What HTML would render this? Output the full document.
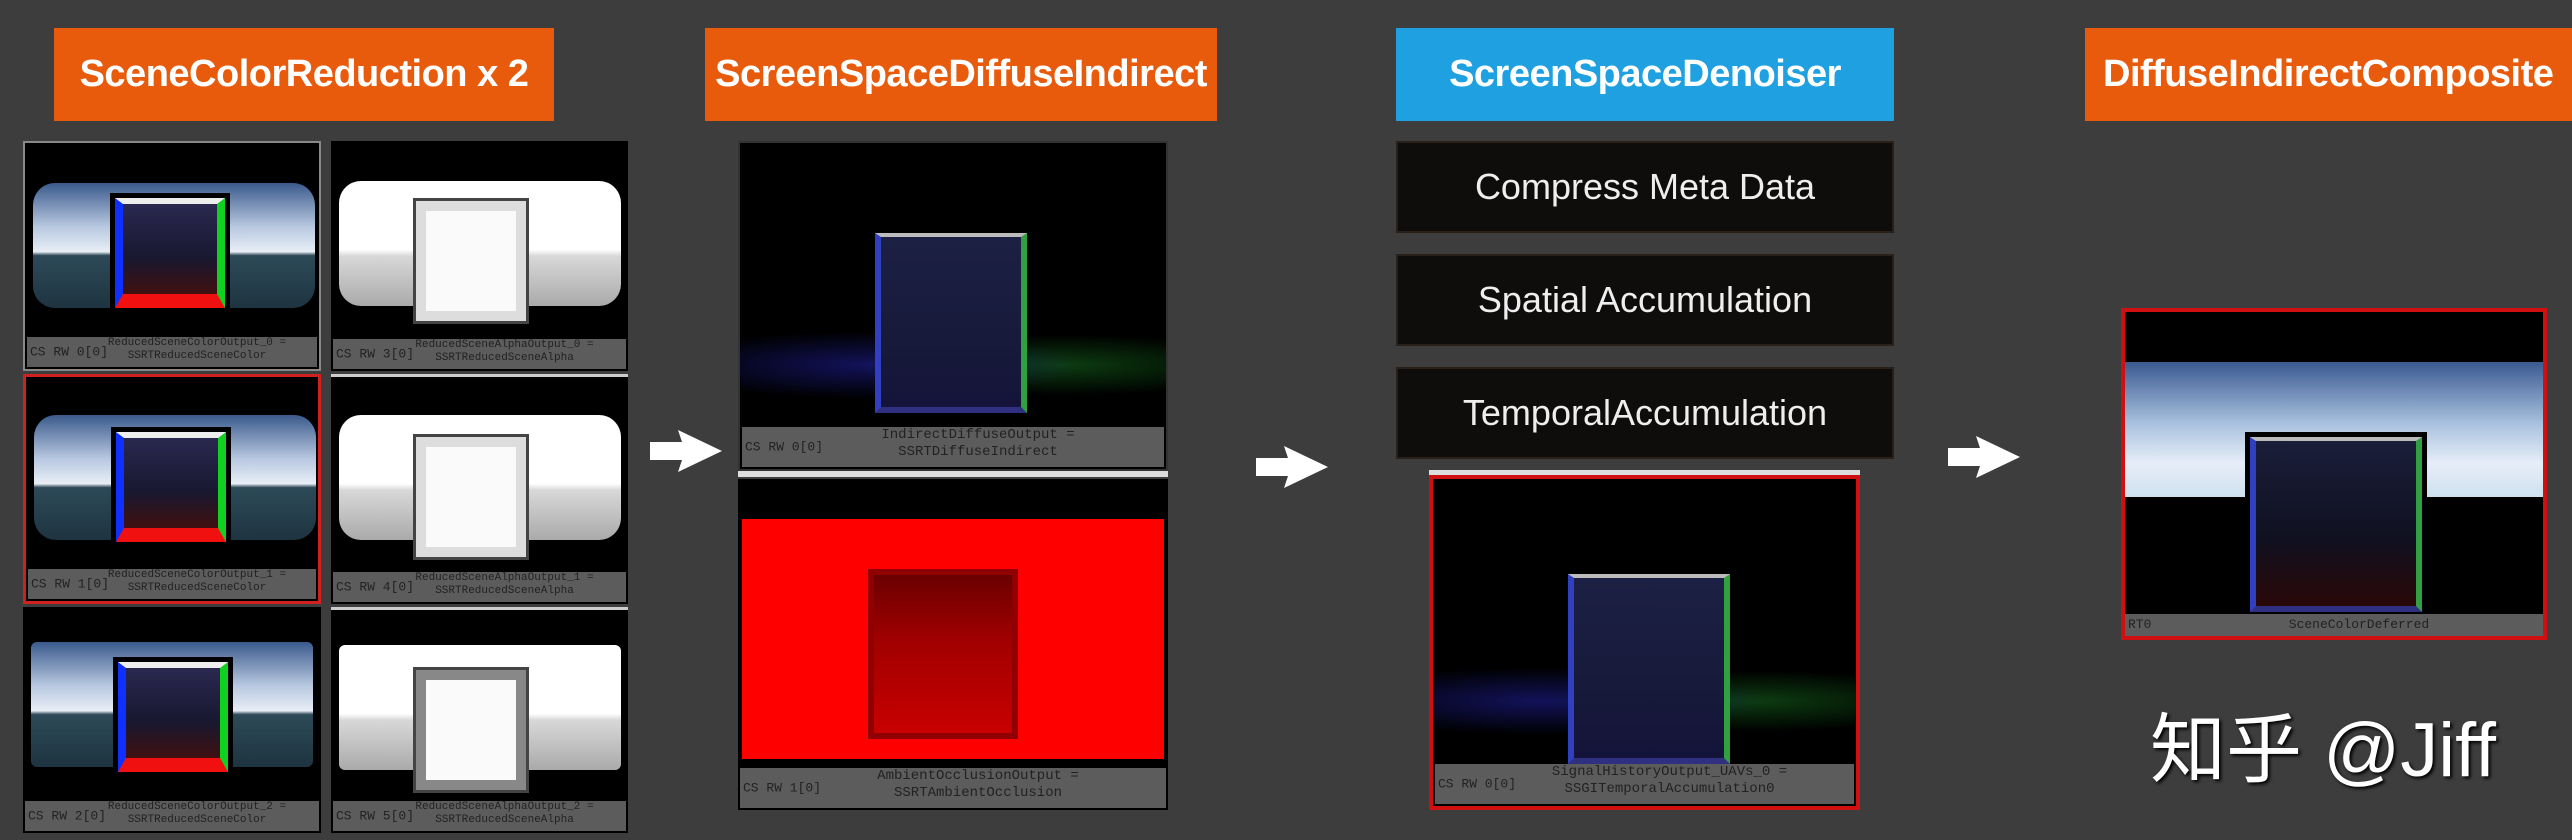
<!DOCTYPE html>
<html><head><meta charset="utf-8">
<style>
body{margin:0;width:2572px;height:840px;background:#3d3d3d;position:relative;overflow:hidden;font-family:"Liberation Sans",sans-serif}
.abs{position:absolute}
.hdr{position:absolute;color:#fff;font-family:"Liberation Sans Narrow","Liberation Sans",sans-serif;font-weight:bold;font-size:38px;display:flex;align-items:center;justify-content:center;white-space:nowrap;letter-spacing:-0.5px}
.or{background:#e85a0c}
.bl{background:#1fa0e0}
.step{position:absolute;background:#0f0d0c;border:2px solid #2a201a;color:#eee;font-size:36px;display:flex;align-items:center;justify-content:center;font-family:"Liberation Sans Narrow","Liberation Sans",sans-serif;box-sizing:border-box}
.thumb{position:absolute;background:#000;overflow:hidden;box-sizing:border-box}
.lab{position:absolute;left:2px;right:2px;bottom:2px;background:#5c5c5c;color:#222;font-family:"Liberation Mono",monospace;font-size:11px;line-height:13px;text-align:center;padding-left:50px;box-sizing:border-box}
.lab span{position:absolute;left:3px;top:50%;transform:translateY(-50%);font-size:13px}
.sky{position:absolute;border-radius:22px;background:linear-gradient(180deg,#3a5a8c 0%,#b8c8e0 35%,#e8eef6 55%,#2d4a58 58%,#1e3440 100%)}
.wsky{position:absolute;border-radius:22px;background:linear-gradient(180deg,#fff 0%,#fff 55%,#d8d8d8 60%,#aaa 100%)}
.room{position:absolute;background:linear-gradient(180deg,#2a2850,#181830 60%,#401010);border-left:8px solid #1030ff;border-right:8px solid #10d020;border-bottom:14px solid #f01010;border-top:6px solid #eee;box-sizing:border-box;box-shadow:0 0 0 5px #000}
.wroom{position:absolute;background:#fafafa;border:10px solid #ddd;box-shadow:0 0 0 3px #444}
.droom{position:absolute;background:linear-gradient(180deg,#1c2044,#171a3a 60%,#14143a);border-left:6px solid #3040c0;border-right:6px solid #30a040;border-top:4px solid #bbb;border-bottom:6px solid #303080}
</style></head><body>
<div class="hdr or" style="left:54px;top:28px;width:500px;height:93px">SceneColorReduction x 2</div>
<div class="hdr or" style="left:705px;top:28px;width:512px;height:93px">ScreenSpaceDiffuseIndirect</div>
<div class="hdr bl" style="left:1396px;top:28px;width:498px;height:93px">ScreenSpaceDenoiser</div>
<div class="hdr or" style="left:2085px;top:28px;width:500px;height:93px;justify-content:flex-start;padding-left:18px">DiffuseIndirectComposite</div>

<div class="thumb" style="left:23px;top:141px;width:298px;height:230px;border:2px solid #888">
 <div class="sky" style="left:8px;top:40px;width:282px;height:125px"></div>
 <div class="room" style="left:90px;top:55px;width:110px;height:110px"></div>
 <div class="lab" style="height:30px"><span>CS RW 0[0]</span>ReducedSceneColorOutput_0 =<br>SSRTReducedSceneColor</div></div>
<div class="thumb" style="left:23px;top:374px;width:298px;height:230px;border:3px solid #d02020">
 <div class="sky" style="left:8px;top:38px;width:282px;height:125px"></div>
 <div class="room" style="left:90px;top:55px;width:110px;height:110px"></div>
 <div class="lab" style="height:30px"><span>CS RW 1[0]</span>ReducedSceneColorOutput_1 =<br>SSRTReducedSceneColor</div></div>
<div class="thumb" style="left:23px;top:607px;width:298px;height:226px">
 <div class="sky" style="left:8px;top:35px;width:282px;height:125px;border-radius:6px"></div>
 <div class="room" style="left:95px;top:55px;width:110px;height:110px"></div>
 <div class="lab" style="height:30px"><span>CS RW 2[0]</span>ReducedSceneColorOutput_2 =<br>SSRTReducedSceneColor</div></div>
<div class="thumb" style="left:331px;top:141px;width:297px;height:230px">
 <div class="wsky" style="left:8px;top:40px;width:282px;height:125px"></div>
 <div class="wroom" style="left:85px;top:60px;width:90px;height:100px"></div>
 <div class="lab" style="height:30px"><span>CS RW 3[0]</span>ReducedSceneAlphaOutput_0 =<br>SSRTReducedSceneAlpha</div></div>
<div class="thumb" style="left:331px;top:374px;width:297px;height:230px;border-top:3px solid #ccc">
 <div class="wsky" style="left:8px;top:38px;width:282px;height:125px"></div>
 <div class="wroom" style="left:85px;top:60px;width:90px;height:100px"></div>
 <div class="lab" style="height:30px"><span>CS RW 4[0]</span>ReducedSceneAlphaOutput_1 =<br>SSRTReducedSceneAlpha</div></div>
<div class="thumb" style="left:331px;top:607px;width:297px;height:226px;border-top:3px solid #ccc">
 <div class="wsky" style="left:8px;top:35px;width:282px;height:125px;border-radius:6px"></div>
 <div class="wroom" style="left:85px;top:60px;width:90px;height:100px;border-color:#888"></div>
 <div class="lab" style="height:30px"><span>CS RW 5[0]</span>ReducedSceneAlphaOutput_2 =<br>SSRTReducedSceneAlpha</div></div>

<div class="thumb" style="left:738px;top:141px;width:430px;height:330px;border:2px solid #333">
 <div class="abs" style="left:0;top:190px;width:430px;height:80px;background:radial-gradient(ellipse at 30% 40%,rgba(40,40,200,.45),transparent 50%),radial-gradient(ellipse at 75% 40%,rgba(30,150,40,.4),transparent 45%)"></div>
 <div class="droom" style="left:135px;top:90px;width:140px;height:170px"></div>
 <div class="lab" style="height:40px;font-size:14px;line-height:17px"><span>CS RW 0[0]</span>IndirectDiffuseOutput =<br>SSRTDiffuseIndirect</div></div>
<div class="abs" style="left:738px;top:471px;width:430px;height:6px;background:#ddd"></div>
<div class="thumb" style="left:738px;top:479px;width:430px;height:331px">
 <div class="abs" style="left:4px;top:40px;width:422px;height:240px;background:#ff0000"></div>
 <div class="abs" style="left:130px;top:90px;width:150px;height:170px;background:linear-gradient(180deg,#6a0000,#a00000 40%,#c80000);border:6px solid #900000;box-sizing:border-box"></div>
 <div class="lab" style="height:40px;font-size:14px;line-height:17px"><span>CS RW 1[0]</span>AmbientOcclusionOutput =<br>SSRTAmbientOcclusion</div></div>

<svg class="abs" style="left:648px;top:428px" width="76" height="46"><polygon points="2,14 34,14 30,2 74,23 30,44 34,32 2,32" fill="#fff"/></svg>
<svg class="abs" style="left:1254px;top:444px" width="76" height="46"><polygon points="2,14 34,14 30,2 74,23 30,44 34,32 2,32" fill="#fff"/></svg>
<svg class="abs" style="left:1946px;top:434px" width="76" height="46"><polygon points="2,14 34,14 30,2 74,23 30,44 34,32 2,32" fill="#fff"/></svg>

<div class="step" style="left:1396px;top:141px;width:498px;height:92px">Compress Meta Data</div>
<div class="step" style="left:1396px;top:254px;width:498px;height:92px">Spatial Accumulation</div>
<div class="step" style="left:1396px;top:367px;width:498px;height:92px">TemporalAccumulation</div>
<div class="abs" style="left:1429px;top:470px;width:431px;height:5px;background:#ddd"></div>
<div class="thumb" style="left:1429px;top:475px;width:431px;height:335px;border:4px solid #d01010">
 <div class="abs" style="left:0;top:190px;width:431px;height:80px;background:radial-gradient(ellipse at 25% 40%,rgba(40,40,200,.45),transparent 50%),radial-gradient(ellipse at 75% 40%,rgba(30,150,40,.4),transparent 45%)"></div>
 <div class="droom" style="left:135px;top:95px;width:150px;height:180px"></div>
 <div class="lab" style="height:40px;font-size:14px;line-height:17px"><span>CS RW 0[0]</span>SignalHistoryOutput_UAVs_0 =<br>SSGITemporalAccumulation0</div></div>

<div class="thumb" style="left:2121px;top:308px;width:426px;height:332px;border:4px solid #d01010">
 <div class="abs" style="left:0;top:50px;width:426px;height:135px;background:linear-gradient(180deg,#3a5a90 0%,#a8c0de 45%,#e6eef8 75%,#cfe0ef 100%)"></div>
 <div class="abs" style="left:0;top:185px;width:426px;height:120px;background:#000"></div>
 <div class="droom" style="left:125px;top:125px;width:160px;height:165px;background:linear-gradient(180deg,#1a1e3a,#101020 60%,#2a0808);box-shadow:0 0 0 5px #000"></div>
 <div class="lab" style="height:22px;font-size:13px;line-height:22px;left:0;right:0;bottom:0"><span>RT0</span>SceneColorDeferred</div></div>

<div class="abs" style="left:2150px;top:688px;color:#fff;font-size:76px;font-family:'Liberation Sans','Noto Sans CJK SC',sans-serif;white-space:nowrap;text-shadow:2px 2px 3px #000">知乎 @Jiff</div>
</body></html>
